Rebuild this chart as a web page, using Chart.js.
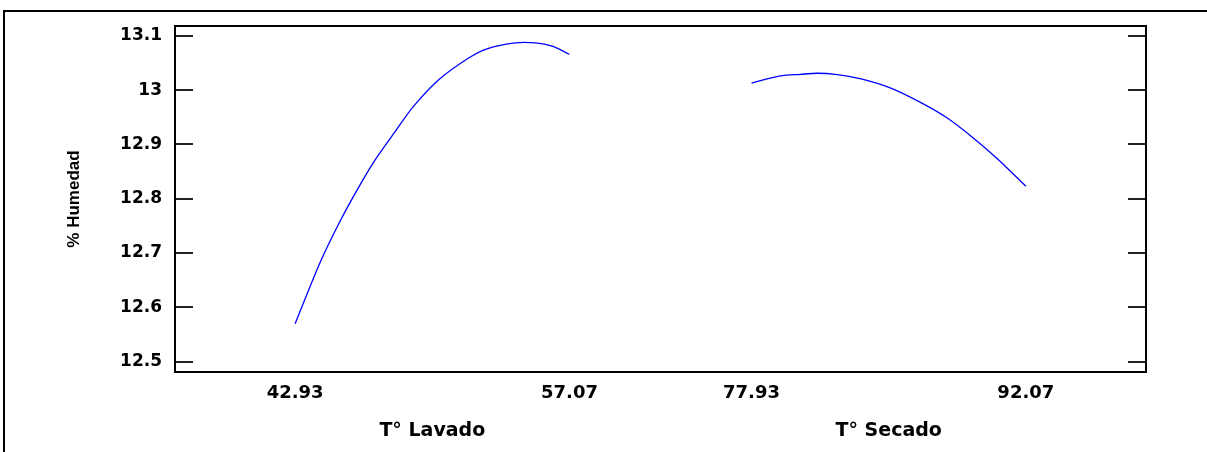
<!DOCTYPE html>
<html>
<head>
<meta charset="utf-8">
<script src="https://cdn.jsdelivr.net/npm/chart.js@4.4.1/dist/chart.umd.min.js"></script>
<style>
  html, body { margin: 0; padding: 0; background: #fff; }
  canvas { display: block; }
</style>
</head>
<body>
<canvas id="effectsChart" width="1207" height="452"></canvas>
<script>
// Factor names and their low / high levels (tick labels)
const factorNames = ["T° Lavado", "T° Secado"];
const tickLabels = ["42.93", "57.07", "77.93", "92.07"];

// T° Lavado effect curve
const lavadoTemp = [42.93, 44.22, 45.25, 46.2, 47.06, 48.09, 49.03, 50.33, 51.87, 52.82, 54.28, 55.31, 56.18, 57.07];
const lavadoHum = [12.57, 12.683, 12.759, 12.821, 12.872, 12.924, 12.97, 13.019, 13.059, 13.076, 13.087, 13.087, 13.081, 13.066];

// T° Secado effect curve
const secadoTemp = [77.93, 79.42, 80.45, 81.31, 82.25, 83.53, 85.08, 86.71, 88.0, 89.36, 90.56, 92.07];
const secadoHum = [13.013, 13.026, 13.029, 13.031, 13.029, 13.021, 13.004, 12.976, 12.949, 12.912, 12.875, 12.823];

const yTicks = [12.5, 12.6, 12.7, 12.8, 12.9, 13.0, 13.1];

// each factor is laid out on its own stretch of the shared x axis (coded -1..+1 = 2 units)
const segStart = [0, 3.327];
const xMin = -0.876;
const xMax = 6.203;

function toAxis(temps, low, high, start) {
  return temps.map((t) => start + ((t - low) / (high - low)) * 2);
}

function toPoints(xs, ys) {
  return xs.map((x, i) => ({ x: x, y: ys[i] }));
}

const lavadoX = toAxis(lavadoTemp, 42.93, 57.07, segStart[0]);
const secadoX = toAxis(secadoTemp, 77.93, 92.07, segStart[1]);
const tickPos = [segStart[0], segStart[0] + 2, segStart[1], segStart[1] + 2];

// frame, inner tick marks and the two factor titles
const framePlugin = {
  id: "framePlugin",
  beforeDraw(chart) {
    const { ctx } = chart;
    ctx.save();
    ctx.strokeStyle = "#000";
    ctx.lineWidth = 2;
    ctx.beginPath();
    ctx.moveTo(4, 452);
    ctx.lineTo(4, 11);
    ctx.lineTo(1207, 11);
    ctx.stroke();
    ctx.restore();
  },
  afterDatasetsDraw(chart) {
    const { ctx, chartArea, scales } = chart;
    const { left, right, top, bottom } = chartArea;
    ctx.save();
    ctx.strokeStyle = "#222";
    ctx.lineWidth = 2;
    yTicks.forEach((v) => {
      const y = Math.round(scales.y.getPixelForValue(v));
      ctx.beginPath();
      ctx.moveTo(left, y);
      ctx.lineTo(left + 18, y);
      ctx.moveTo(right - 18, y);
      ctx.lineTo(right, y);
      ctx.stroke();
    });
    ctx.strokeStyle = "#000";
    ctx.strokeRect(left, top, right - left, bottom - top);

    ctx.fillStyle = "#000";
    ctx.font = "bold 19px 'DejaVu Sans'";
    ctx.textAlign = "center";
    ctx.textBaseline = "middle";
    factorNames.forEach((name, i) => {
      const x = scales.x.getPixelForValue(segStart[i] + 1);
      ctx.fillText(name, x, 431);
    });
    ctx.restore();
  },
};

new Chart(document.getElementById("effectsChart"), {
  type: "line",
  data: {
    datasets: [
      {
        label: factorNames[0],
        data: toPoints(lavadoX, lavadoHum),
        borderColor: "#0000FF",
        borderWidth: 1.3,
        pointRadius: 0,
        tension: 0.3,
      },
      {
        label: factorNames[1],
        data: toPoints(secadoX, secadoHum),
        borderColor: "#0000FF",
        borderWidth: 1.3,
        pointRadius: 0,
        tension: 0.3,
      },
    ],
  },
  options: {
    responsive: false,
    animation: false,
    layout: { padding: { left: 0, top: 26, right: 61, bottom: 0 } },
    plugins: {
      legend: { display: false },
      tooltip: { enabled: false },
    },
    scales: {
      x: {
        type: "linear",
        min: xMin,
        max: xMax,
        grid: { display: false, drawTicks: false },
        border: { display: false },
        afterBuildTicks(scale) {
          scale.ticks = tickPos.map((v) => ({ value: v }));
        },
        afterFit(scale) {
          scale.height = 80;
        },
        ticks: {
          padding: 11,
          color: "#000",
          font: { family: "DejaVu Sans", size: 18, weight: "bold" },
          maxRotation: 0,
          autoSkip: false,
          callback: (value, index) => tickLabels[index],
        },
      },
      y: {
        min: 12.481,
        max: 13.118,
        grid: { display: false, drawTicks: false },
        border: { display: false },
        afterBuildTicks(scale) {
          scale.ticks = yTicks.map((v) => ({ value: v }));
        },
        afterFit(scale) {
          scale.width = 175;
        },
        ticks: {
          padding: 13,
          color: "#000",
          font: { family: "DejaVu Sans", size: 17, weight: "bold" },
          callback: (value) => String(+value.toFixed(1)),
        },
        title: {
          display: true,
          text: "% Humedad",
          color: "#000",
          font: { family: "Liberation Sans", size: 17, weight: "bold" },
          padding: { top: 64, bottom: 0 },
        },
      },
    },
  },
  plugins: [framePlugin],
});
</script>
</body>
</html>
